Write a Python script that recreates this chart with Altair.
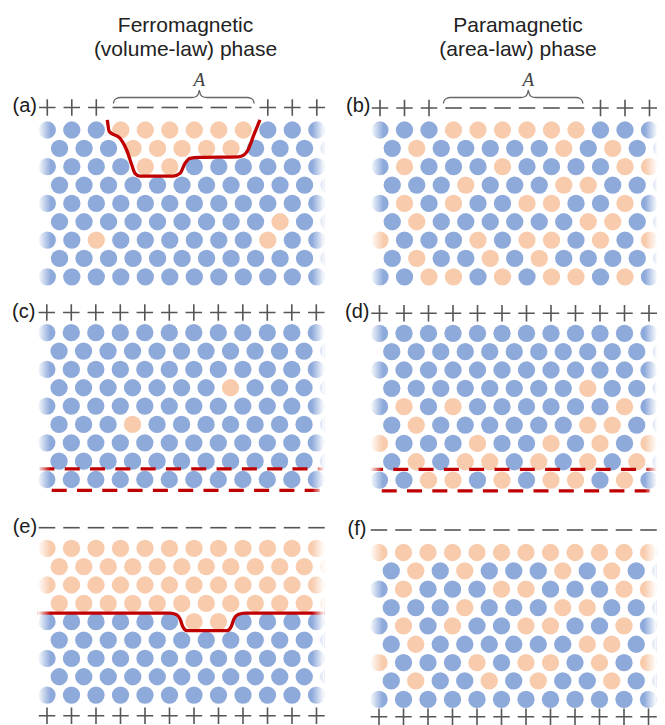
import altair as alt
import pandas as pd

# ---------------- data ----------------
PANELS = ["a", "b", "c", "d", "e", "f"]

# spin of every site, row by row (B = blue "+", O = orange "-");
# even rows start at column 0, odd rows are shifted by half a column
SPINS_A = ["BBBOOOOOOBBB", "BBBOOOOOBBBB", "BBBBOOBBBBBB", "BBBBBBBBBBBB", "BBBBBBBBBBBB",
           "BBBBBBBBBOBB", "BBOBBBBBBOBB", "BBBBBBBBBBBB", "BBBBBBBBBBBB"]
SPINS_B = ["BBBOOOOOOBBB", "BOBBBBBOBOBB", "BOBBBOBBBBOO", "BBBOBBBOOBBB", "BOBOBBOOBBOB",
           "BOBBBBBBOOBB", "OBBBOBOOBOBO", "BOBBOBOBBBBB", "BBOOBOBOOBOB"]
SPINS_C = ["BBBBBBBBBBBB", "BBBBBBBBBBBB", "BBBBBBBBBBBB", "BBBBBBBOBBBB", "BBBBBBBBBBBB",
           "BBBOBBBBBBBB", "BBBBBBBBBBBB", "BBBBBBBBBBBB", "BBBBBBBBBBBB"]
SPINS_D = ["BBBBBBBBBBBB", "BBBBBBBBBBBB", "BBBBBBBBBBBB", "BBBBBBBBOBBB", "BOBOBBBBBBOB",
           "BOBBBBBBOOBB", "OBBBOBBOBOBO", "BOBOOBOBOBOB", "BBOOBOBOOBOB"]
SPINS_E = ["OOOOOOOOOOOO", "OOOOOOOOOOOO", "OOOOOOOOOOOO", "OOOOOOOOOOOO", "BBBBBBOOBBBB",
           "BBBBBBBBBBBB", "BBBBBBBBBBBB", "BBBBBBBBBBBB", "BBBBBBBBBBBB"]
SPINS_F = ["OOOOOOOOOOOO", "BOBOBBBOBOBB", "BOBBBOOBBBOO", "BBBOBBBOOBBB", "BOBOBBOOBBOB",
           "BOBBBBBBOOBB", "OBBBOBOOBOBO", "BOBBOBOBBOBB", "BBBBBBBBBBBB"]
SPINS = {"a": SPINS_A, "b": SPINS_B, "c": SPINS_C, "d": SPINS_D, "e": SPINS_E, "f": SPINS_F}

# boundary spins above (and below) each lattice
SIGNS_TOP = {"a": "+++------+++", "b": "+++------+++", "c": "++++++++++++",
             "d": "++++++++++++", "e": "------------", "f": "------------"}
SIGNS_BOTTOM = {"e": "++++++++++++", "f": "++++++++++++"}

# domain walls, lattice units (u: columns, v: rows)
WALL_A_U = [2.45, 2.53, 2.97, 3.24, 3.45, 3.58, 3.78, 5.14, 5.42, 5.62, 5.82, 6.23, 7.80, 8.03, 8.19, 8.43, 8.68]
WALL_A_V = [-0.55, 0.09, 0.45, 1.09, 1.91, 2.36, 2.51, 2.51, 2.36, 1.82, 1.54, 1.49, 1.46, 1.36, 1.09, 0.27, -0.55]
WALL_E_U = [-0.45, 5.02, 5.27, 5.43, 5.55, 5.71, 7.35, 7.51, 7.63, 7.80, 8.08, 11.55]
WALL_E_V = [3.53, 3.53, 3.61, 3.85, 4.29, 4.49, 4.49, 4.29, 3.85, 3.61, 3.53, 3.53]

# dashed cuts in (c) and (d): start u, end u, v
CUTS = [("c", -0.30, 11.3, 7.42), ("c", 0.20, 11.3, 8.59),
        ("d", -0.47, 11.3, 7.42), ("d", 0.09, 11.3, 8.59)]

LABELS = ["(a)", "(b)", "(c)", "(d)", "(e)", "(f)"]
TITLES_LEFT = ["Ferromagnetic", "(volume-law) phase"]
TITLES_RIGHT = ["Paramagnetic", "(area-law) phase"]

# ---------------- layout / style ----------------
BLUE, ORANGE, RED, INK = "#8eaadb", "#f8cbad", "#c00000", "#555555"
DX, DY = 24.5, 18.35
ORIGIN = {"a": (47.3, 130.0), "b": (380.0, 130.0), "c": (46.8, 332.7),
          "d": (379.5, 333.3), "e": (47.0, 548.3), "f": (379.0, 552.5)}
SIGN_DY_TOP = {"a": -22.5, "b": -22.0, "c": -20.2, "d": -20.0, "e": -20.6, "f": -22.5}
SIGN_DY_BOTTOM = {"e": 20.7, "f": 17.4}
LABEL_POS = {"a": (12.5, 112.0), "b": (346.0, 112.0), "c": (12.0, 317.5),
             "d": (345.0, 317.7), "e": (12.7, 533.0), "f": (347.5, 534.5)}
BRACES = {"a": (113.3, 199.3, 254.3), "b": (443.3, 528.3, 583.0)}


def px(p, u, v):
    x0, y0 = ORIGIN[p]
    return x0 + u * DX, y0 + v * DY


# circles
rows = []
for p in PANELS:
    for r, line in enumerate(SPINS[p]):
        for k, s in enumerate(line):
            x, y = px(p, k + 0.5 * (r % 2), r)
            rows.append({"x": x, "y": y, "spin": s})
df_sites = pd.DataFrame(rows)

# boundary signs
rows = []
for p in PANELS:
    x0, y0 = ORIGIN[p]
    for k, s in enumerate(SIGNS_TOP[p]):
        rows.append({"x": x0 + k * DX, "y": y0 + SIGN_DY_TOP[p], "sign": s})
    if p in SIGNS_BOTTOM:
        for k, s in enumerate(SIGNS_BOTTOM[p]):
            rows.append({"x": x0 + k * DX, "y": y0 + 8 * DY + SIGN_DY_BOTTOM[p], "sign": s})
df_signs = pd.DataFrame(rows)

# walls
rows = []
for name, p, us, vs in [("A", "a", WALL_A_U, WALL_A_V), ("E", "e", WALL_E_U, WALL_E_V)]:
    for i, (u, v) in enumerate(zip(us, vs)):
        x, y = px(p, u, v)
        rows.append({"x": x, "y": y, "wall": name, "seq": i})
df_walls = pd.DataFrame(rows)

rows = []
for j, (p, u1, u2, v) in enumerate(CUTS):
    for i, u in enumerate([u1, u2]):
        x, y = px(p, u, v)
        rows.append({"x": x, "y": y, "cut": j, "seq": i})
df_cuts = pd.DataFrame(rows)

# braces
rows = []
for p, (xl, xp, xr) in BRACES.items():
    yb, ym, yt = 103.5, 97.5, 90.5
    pts = [(xl, yb), (xl + 1, yb - 3), (xl + 3, ym + 1), (xl + 7, ym), (xp - 7, ym), (xp - 3, ym - 1),
           (xp - 1, ym - 3.5), (xp, yt), (xp + 1, ym - 3.5), (xp + 3, ym - 1), (xp + 7, ym),
           (xr - 7, ym), (xr - 3, ym + 1), (xr - 1, yb - 3), (xr, yb)]
    for i, (x, y) in enumerate(pts):
        rows.append({"x": x, "y": y, "brace": p, "seq": i})
df_braces = pd.DataFrame(rows)
df_A = pd.DataFrame([{"x": BRACES[p][1], "y": 86.0, "t": "A"} for p in BRACES])

# fades at lattice edges
rows_l, rows_r, rows_w = [], [], []
for p in PANELS:
    x0, y0 = ORIGIN[p]
    yt = y0 - 10.5
    yb = y0 + 8 * DY + (13 if p in ("c", "d") else 10.5)
    rows_l.append({"x": x0 - 9.5, "x2": x0 + 3.5, "y": yt, "y2": yb})
    rows_r.append({"x": x0 + 11 * DX - 4.5, "x2": x0 + 11 * DX + 8, "y": yt, "y2": yb})
    rows_w.append({"x": x0 - 22, "x2": x0 - 9.4, "y": yt, "y2": yb})
    rows_w.append({"x": x0 + 11 * DX + 7.9, "x2": x0 + 11 * DX + 24, "y": yt, "y2": yb})
df_fl, df_fr, df_fw = pd.DataFrame(rows_l), pd.DataFrame(rows_r), pd.DataFrame(rows_w)

df_labels = pd.DataFrame([{"x": LABEL_POS[p][0], "y": LABEL_POS[p][1], "t": t} for p, t in zip(PANELS, LABELS)])
df_titles = pd.DataFrame(
    [{"x": 185.5, "y": 31.5 + 24 * i, "t": t} for i, t in enumerate(TITLES_LEFT)]
    + [{"x": 518.0, "y": 31.5 + 24 * i, "t": t} for i, t in enumerate(TITLES_RIGHT)]
)

# ---------------- chart ----------------
xs = alt.Scale(domain=[8, 657], nice=False, zero=False)
ys = alt.Scale(domain=[8, 725], nice=False, zero=False, reverse=True)
X = alt.X("x:Q", scale=xs, axis=None)
Y = alt.Y("y:Q", scale=ys, axis=None)

sites = alt.Chart(df_sites).mark_circle(size=300, opacity=1).encode(
    x=X, y=Y,
    color=alt.Color("spin:N", scale=alt.Scale(domain=["B", "O"], range=[BLUE, ORANGE]), legend=None),
)

walls = alt.Chart(df_walls).mark_line(color=RED, strokeWidth=3.3, interpolate="monotone").encode(
    x=X, y=Y, detail="wall:N", order="seq:Q")

cuts = alt.Chart(df_cuts).mark_line(color=RED, strokeWidth=3.3, strokeDash=[15, 10.3]).encode(
    x=X, y=Y, detail="cut:N", order="seq:Q")

grad_l = alt.LinearGradient(gradient="linear", x1=0, x2=1, y1=0, y2=0,
                            stops=[alt.GradientStop(color="rgba(255,255,255,1)", offset=0),
                                   alt.GradientStop(color="rgba(255,255,255,0)", offset=1)])
grad_r = alt.LinearGradient(gradient="linear", x1=0, x2=1, y1=0, y2=0,
                            stops=[alt.GradientStop(color="rgba(255,255,255,0)", offset=0),
                                   alt.GradientStop(color="rgba(255,255,255,1)", offset=1)])
X2 = alt.X2("x2:Q")
Y2 = alt.Y2("y2:Q")
fade_l = alt.Chart(df_fl).mark_rect(color=grad_l).encode(x=X, x2=X2, y=Y, y2=Y2)
fade_r = alt.Chart(df_fr).mark_rect(color=grad_r).encode(x=X, x2=X2, y=Y, y2=Y2)
fade_w = alt.Chart(df_fw).mark_rect(color="white").encode(x=X, x2=X2, y=Y, y2=Y2)

PLUS = "M-1,0L1,0M0,-1L0,1"
MINUS = "M-1,0L1,0"
signs = alt.Chart(df_signs).mark_point(filled=False, size=272, strokeWidth=1.6, color=INK, opacity=1).encode(
    x=X, y=Y,
    shape=alt.Shape("sign:N", scale=alt.Scale(domain=["+", "-"], range=[PLUS, MINUS]), legend=None),
)

braces = alt.Chart(df_braces).mark_line(color="#666666", strokeWidth=1.3, interpolate="monotone").encode(
    x=X, y=Y, detail="brace:N", order="seq:Q")
a_text = alt.Chart(df_A).mark_text(font="Liberation Serif", fontStyle="italic", fontSize=19,
                                   color="#444444", baseline="alphabetic", align="center").encode(
    x=X, y=Y, text="t:N")

labels = alt.Chart(df_labels).mark_text(font="Liberation Sans", fontSize=20, color="#1a1a1a",
                                        align="left", baseline="alphabetic").encode(x=X, y=Y, text="t:N")
titles = alt.Chart(df_titles).mark_text(font="Liberation Sans", fontSize=21, color="#222222",
                                        align="center", baseline="alphabetic").encode(x=X, y=Y, text="t:N")

chart = alt.layer(
    sites, walls, cuts, fade_l, fade_r, fade_w, signs, braces, a_text, labels, titles
).properties(
    width=649, height=717, padding=0, autosize=alt.AutoSizeParams(type="none")
).configure_view(stroke=None)

chart.save("out.html", embed_options={"renderer": "svg", "actions": False})
